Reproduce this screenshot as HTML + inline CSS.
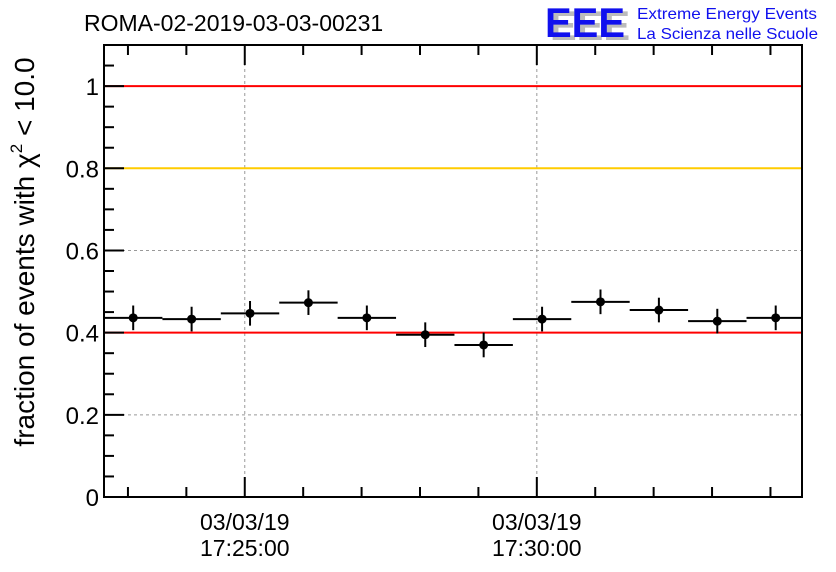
<!DOCTYPE html>
<html><head><meta charset="utf-8"><style>
html,body{margin:0;padding:0;background:#fff;}
svg{display:block;font-family:"Liberation Sans",sans-serif;}
</style></head><body>
<svg id="chart" width="836" height="572" viewBox="0 0 836 572" xmlns="http://www.w3.org/2000/svg">
<defs><clipPath id="plotclip"><rect x="104" y="45" width="698" height="452"/></clipPath></defs>
<rect width="836" height="572" fill="#fff"/>
<text x="84" y="31" font-size="23" fill="#000">ROMA-02-2019-03-03-00231</text>
<g>
<text x="550" y="40" font-size="42" font-weight="bold" fill="#bbb" textLength="80" lengthAdjust="spacingAndGlyphs">EEE</text>
<text x="545" y="37" font-size="42" font-weight="bold" fill="#1010ee" textLength="80" lengthAdjust="spacingAndGlyphs">EEE</text>
<text x="637" y="19" font-size="16" fill="#1010ee" textLength="180" lengthAdjust="spacingAndGlyphs">Extreme Energy Events</text>
<text x="637" y="39" font-size="16" fill="#1010ee" textLength="181" lengthAdjust="spacingAndGlyphs">La Scienza nelle Scuole</text>
</g>
<g id="grid"></g>
<g id="refs"></g>
<g id="marks" clip-path="url(#plotclip)"></g>
<g id="axes"></g>
<text transform="translate(34,252) rotate(-90)" text-anchor="middle" font-size="28" fill="#000">fraction of events with χ<tspan dy="-12" font-size="17">2</tspan><tspan dy="12"> &lt; 10.0</tspan></text>
</svg>
<script>
const values=[0.436,0.433,0.447,0.473,0.436,0.395,0.370,0.433,0.475,0.455,0.428,0.436];
const errors=[0.030,0.030,0.030,0.030,0.030,0.030,0.030,0.030,0.030,0.030,0.030,0.030];
const yTicks=[0,0.2,0.4,0.6,0.8,1];
const yTickLabels=["0","0.2","0.4","0.6","0.8","1"];
const xMajor=[0,5];
const xMajorLabels=[["03/03/19","17:25:00"],["03/03/19","17:30:00"]];
const refLines=[{v:1,c:"#ff0000"},{v:0.8,c:"#ffcc00"},{v:0.4,c:"#ff0000"}];
const X0=104,X1=802,Y0=497,Y1=45;
const xmin=-2.41,xmax=9.54,ymin=0,ymax=1.1;
const sx=v=>X0+(v-xmin)/(xmax-xmin)*(X1-X0);
const sy=v=>Y0-(v-ymin)/(ymax-ymin)*(Y0-Y1);
const NS="http://www.w3.org/2000/svg";
function mk(p,t,a){const e=document.createElementNS(NS,t);for(const k in a)e.setAttribute(k,a[k]);p.appendChild(e);return e;}
const grid=document.getElementById('grid'),refs=document.getElementById('refs'),marks=document.getElementById('marks'),axes=document.getElementById('axes');
yTicks.forEach(v=>{if(v>0&&v<1){const l=mk(grid,'line',{x1:X0,x2:X1,y1:sy(v),y2:sy(v),stroke:'#999','stroke-dasharray':'3,3'});

}});
xMajor.forEach(v=>{const l=mk(grid,'line',{x1:sx(v),x2:sx(v),y1:Y1,y2:Y0,stroke:'#999','stroke-dasharray':'3,3'});

});
refLines.forEach(r=>{const l=mk(refs,'line',{x1:X0,x2:X1,y1:sy(r.v),y2:sy(r.v),stroke:r.c,'stroke-width':2});

});
values.forEach((v,i)=>{const c=xmin+0.5+i;const g=mk(marks,'g',{});


mk(g,'line',{x1:sx(c-0.5),x2:sx(c+0.5),y1:sy(v),y2:sy(v),stroke:'#000','stroke-width':2});
mk(g,'line',{x1:sx(c),x2:sx(c),y1:sy(v-errors[i]),y2:sy(v+errors[i]),stroke:'#000','stroke-width':2});
mk(g,'circle',{cx:sx(c),cy:sy(v),r:4.5,fill:'#000'});});
mk(axes,'rect',{x:X0,y:Y1,width:X1-X0,height:Y0-Y1,fill:'none',stroke:'#000','stroke-width':2});
for(let k=0;k<=21;k++){const v=k*0.05;const maj=k%4===0;
mk(axes,'line',{x1:X0,x2:X0+(maj?20:10),y1:sy(v),y2:sy(v),stroke:'#000','stroke-width':2});}
yTicks.forEach((v,i)=>{const t=mk(axes,'text',{x:X0-5,y:sy(v)+9,'text-anchor':'end','font-size':24,fill:'#000'});t.textContent=yTickLabels[i];

});
for(let m=Math.ceil(xmin);m<=xmax;m++){const maj=xMajor.includes(m);
mk(axes,'line',{x1:sx(m),x2:sx(m),y1:Y0,y2:Y0-(maj?20:10),stroke:'#000','stroke-width':2});
mk(axes,'line',{x1:sx(m),x2:sx(m),y1:Y1,y2:Y1+(maj?20:10),stroke:'#000','stroke-width':2});}
xMajor.forEach((v,i)=>{xMajorLabels[i].forEach((s,j)=>{const t=mk(axes,'text',{x:sx(v),y:530+j*26,'text-anchor':'middle','font-size':23,fill:'#000'});t.textContent=s;

});});
</script>
</body></html>
